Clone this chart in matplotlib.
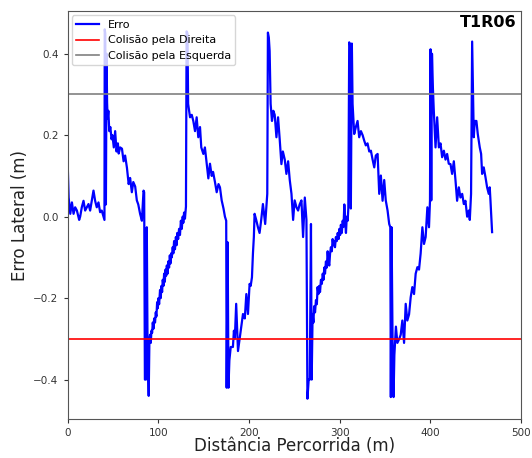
import matplotlib
matplotlib.use("Agg")
import matplotlib.pyplot as plt

# Distance travelled (m) and lateral error (m)
distancia = [
    0.0, 1.2, 3.0, 4.8, 6.6, 8.4, 10.3, 12.8, 13.9, 15.7, 17.6, 19.4, 21.2, 23.1, 24.9, 26.7,
    28.6, 30.4, 32.2, 34.1, 35.9, 37.7, 39.6, 40.7,
    41.0, 41.6, 42.3, 43.0, 43.6, 44.2,
    45.0, 46.0, 47.2, 48.5, 49.5, 51.0, 52.5, 54.0, 55.5, 56.4, 58.0, 60.0, 61.8, 63.5, 65.5,
    67.4, 69.0, 70.9, 72.5, 74.6, 76.4, 78.0, 80.0, 82.0, 83.8,
    84.5, 85.3, 86.5, 87.4, 88.2, 89.5, 90.3,
    91.0, 91.8, 92.5, 93.3, 94.0, 94.8, 95.5, 96.5, 97.3, 98.0, 98.8, 99.5, 100.3, 101.0,
    102.0, 102.8, 103.5, 104.3, 105.0, 105.8, 106.5, 107.3, 108.0, 108.8, 109.5, 110.3, 111.0,
    112.0, 112.8, 113.5, 114.3, 115.0, 116.0, 116.7, 117.5, 118.5, 119.5, 120.3, 121.0, 122.0,
    123.0, 124.0, 125.0, 126.0, 127.0, 127.7, 128.5, 129.5, 130.6,
    131.3, 132.3, 133.0, 135.1, 137.0, 138.7, 140.6, 142.4, 144.2, 146.1, 147.5, 149.8, 151.5,
    153.5, 155.3, 157.1, 159.0, 160.5, 162.6, 164.5, 166.5, 168.1, 170.0, 172.0, 173.6, 175.0,
    175.5, 176.6, 177.5, 178.5, 180.0, 182.4, 183.5, 184.5, 186.0, 188.0, 189.8,
    191.5, 193.5, 195.5, 197.2, 199.0, 200.8, 202.0, 203.4, 204.5, 205.5, 206.3, 208.1, 210.0,
    211.8, 213.6, 215.5, 218.0, 220.3,
    221.0, 222.0, 222.9, 224.0, 225.5, 227.0, 228.5, 230.4, 232.2, 234.0, 235.9, 237.5, 239.6,
    241.4, 243.3, 245.1, 247.0, 248.8, 250.5, 252.5, 254.3, 256.0, 258.0, 259.8, 261.7, 263.5,
    264.6, 266.0, 267.2, 268.5, 269.3,
    270.3, 271.2, 272.0, 273.0, 274.0, 275.0, 275.8, 276.7, 277.5, 278.5, 279.5, 280.5, 281.5,
    282.3, 283.2, 284.0, 285.0, 286.0, 286.9, 287.8, 288.7, 289.6, 290.5, 291.5, 292.4, 293.2,
    294.0, 295.0, 296.0, 297.0, 298.0, 299.0, 299.8, 300.7, 301.5, 302.5, 303.5, 304.4, 305.3,
    306.2, 307.1, 308.0, 309.0, 309.7,
    310.7, 311.8, 312.5, 313.6, 314.4, 316.2, 318.0, 319.9, 321.7, 323.6, 325.5, 327.2, 329.0,
    330.9, 332.8, 334.6, 336.5, 338.3, 340.0, 342.0, 343.8, 345.6, 347.5, 349.3, 351.0, 353.0,
    354.8, 356.0,
    356.6, 357.4, 358.5, 359.6, 360.5, 362.2, 363.8, 365.9, 367.5, 369.3, 371.2, 373.0, 374.8,
    376.7, 378.5, 380.3, 382.2, 384.0, 385.9, 387.7, 389.5, 391.4, 393.2, 395.0, 396.9, 398.7,
    399.8,
    400.4, 401.2, 402.0, 403.0, 404.0, 405.9, 407.7, 409.6, 411.4, 413.2, 415.1, 416.9, 418.7,
    420.5, 422.4, 424.2, 426.1, 427.9, 429.7, 431.6, 433.4, 435.3, 437.1, 438.9, 440.8, 442.6,
    443.7, 445.1,
    446.3, 447.4, 448.1, 449.2, 451.0, 452.5, 454.7, 456.2, 457.3, 459.1, 461.0, 462.8, 464.6,
    465.7, 466.5, 468.3,
]
erro = [
    0.14, 0.047, 0.007, 0.035, 0.007, 0.023, 0.015, -0.008, 0.0, 0.023, 0.039, 0.015, 0.023, 0.031, 0.015, 0.039,
    0.064, 0.039, 0.023, 0.035, 0.011, 0.015, 0.0, -0.008,
    0.46, 0.45, 0.03, 0.40, 0.28, 0.24,
    0.26, 0.21, 0.22, 0.19, 0.20, 0.17, 0.21, 0.16, 0.18, 0.155, 0.17, 0.167, 0.136, 0.15, 0.12,
    0.08, 0.095, 0.06, 0.085, 0.074, 0.04, 0.03, 0.007, -0.01, 0.064,
    0.06, -0.40, -0.40, -0.026, -0.31, -0.44, -0.30,
    -0.29, -0.31, -0.28, -0.285, -0.26, -0.275, -0.25, -0.26, -0.235, -0.245, -0.21, -0.225, -0.20, -0.215,
    -0.18, -0.20, -0.17, -0.185, -0.155, -0.17, -0.14, -0.16, -0.13, -0.145, -0.12, -0.14, -0.11,
    -0.125, -0.095, -0.115, -0.09, -0.10, -0.075, -0.09, -0.06, -0.08, -0.05, -0.07, -0.04, -0.055,
    -0.03, -0.045, -0.01, -0.03, 0.0, -0.015, 0.01, -0.005, 0.025,
    0.455, 0.45, 0.277, 0.244, 0.25, 0.235, 0.21, 0.244, 0.195, 0.22, 0.17, 0.154, 0.17,
    0.13, 0.094, 0.13, 0.10, 0.11, 0.085, 0.06, 0.08, 0.072, 0.04, 0.02, 0.0, -0.01,
    -0.42, -0.063, -0.42, -0.353, -0.32, -0.32, -0.28, -0.30, -0.214, -0.33, -0.30,
    -0.27, -0.239, -0.25, -0.19, -0.239, -0.165, -0.17, -0.149, -0.09, -0.05, 0.007, -0.008, -0.026,
    -0.04, -0.008, 0.031, -0.018, 0.056,
    0.452, 0.44, 0.407, 0.277, 0.235, 0.26, 0.25, 0.195, 0.244, 0.19, 0.129, 0.16, 0.14,
    0.105, 0.136, 0.09, 0.056, -0.008, 0.04, 0.023, 0.015, 0.03, 0.04, -0.05, 0.047, -0.008,
    -0.447, -0.40, -0.40, -0.018, -0.40,
    -0.239, -0.26, -0.22, -0.235, -0.205, -0.215, -0.173, -0.19, -0.17, -0.185, -0.155, -0.165, -0.14,
    -0.155, -0.125, -0.14, -0.11, -0.125, -0.085, -0.11, -0.12, -0.09, -0.075, -0.085, -0.055, -0.07,
    -0.06, -0.075, -0.05, -0.06, -0.04, -0.055, -0.03, -0.045, -0.02, -0.04, -0.01, -0.025, 0.03,
    -0.01, -0.04, 0.0, -0.01, 0.02,
    0.428, 0.42, 0.02, 0.425, 0.277, 0.203, 0.22, 0.235, 0.195, 0.21, 0.20, 0.187, 0.175,
    0.18, 0.16, 0.162, 0.14, 0.121, 0.15, 0.154, 0.056, 0.101, 0.039, 0.09, 0.04, 0.015,
    -0.018, -0.026,
    -0.443, -0.026, -0.304, -0.443, -0.34, -0.27, -0.31, -0.30, -0.29, -0.255, -0.31, -0.214, -0.255,
    -0.24, -0.198, -0.173, -0.19, -0.14, -0.124, -0.13, -0.09, -0.026, -0.067, -0.05, 0.023, -0.026,
    0.04,
    0.411, 0.04, 0.40, 0.317, 0.26, 0.17, 0.244, 0.17, 0.18, 0.146, 0.162, 0.14, 0.154,
    0.13, 0.129, 0.105, 0.136, 0.09, 0.039, 0.072, 0.047, 0.056, 0.031, 0.039, 0.0, 0.015,
    -0.008, 0.056,
    0.43, 0.277, 0.195, 0.235, 0.235, 0.203, 0.17, 0.154, 0.105, 0.121, 0.097, 0.072, 0.056,
    0.072, 0.04, -0.038,
]

limite_direita = -0.3
limite_esquerda = 0.3
titulo = "T1R06"
x_ticks = [0, 100, 200, 300, 400, 500]
y_ticks = [-0.4, -0.2, 0.0, 0.2, 0.4]

fig = plt.figure(figsize=(5.32, 4.58), dpi=100)
ax = fig.add_axes([0.127, 0.085, 0.852, 0.891])

ax.plot(distancia, erro, color="blue", lw=1.6, label="Erro")
ax.axhline(limite_direita, color="red", lw=1.2, label="Colisão pela Direita")
ax.axhline(limite_esquerda, color="gray", lw=1.2, label="Colisão pela Esquerda")

ax.set_xlim(0, 500)
ax.set_ylim(-0.497, 0.505)
ax.set_xticks(x_ticks)
ax.set_yticks(y_ticks)
ax.tick_params(labelsize=7.5, colors="#333333", length=3)
for s in ax.spines.values():
    s.set_color("#555555")

ax.set_xlabel("Distância Percorrida (m)", fontsize=12, labelpad=-1, color="#222222")
ax.set_ylabel("Erro Lateral (m)", fontsize=12, labelpad=3, color="#222222")

ax.legend(loc="upper left", fontsize=8, framealpha=0.8, borderaxespad=0.4)
ax.text(0.99, 0.99, titulo, transform=ax.transAxes, ha="right", va="top",
        fontsize=11.5, fontweight="bold")

fig.savefig("out.png", dpi=100)
